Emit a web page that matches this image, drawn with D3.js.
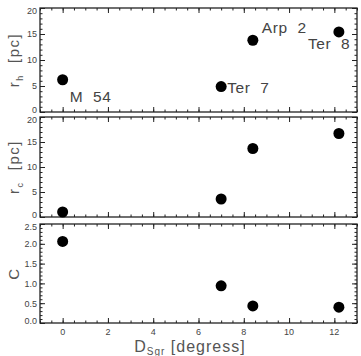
<!DOCTYPE html>
<html>
<head>
<meta charset="utf-8">
<script src="https://cdn.jsdelivr.net/npm/d3@7"></script>
<style>
  body { margin: 0; background: #fff; }
  text { font-family: "Liberation Sans", Arial, sans-serif; fill: #333; }
</style>
</head>
<body>
<div id="chart"></div>
<script>
// cluster data
var names = ["M 54", "Ter 7", "Arp 2", "Ter 8"];
var dSgr = [0, 7.0, 8.4, 12.2];
var rh = [6.2, 4.9, 13.8, 15.4];
var rc = [1.0, 3.6, 13.7, 16.7];
var conc = [2.06, 0.94, 0.43, 0.40];

var xTicks = [0, 2, 4, 6, 8, 10, 12];
var rTicks = [0, 5, 10, 15, 20];
var cTicks = [0.0, 0.5, 1.0, 1.5, 2.0, 2.5];

var W = 361, H = 356;
var left = 40, right = 357;

var svg = d3.select("#chart").append("svg")
    .attr("width", W)
    .attr("height", H);

var x = d3.scaleLinear().domain([-1, 13]).range([left, right]);

// panel definitions
var panels = [
  { top: 8, bottom: 112, domain: [0, 20], ticks: rTicks, minor: 1, vals: rh, fmt: d3.format("d"), label: "r", sub: "h", unit: " [pc]" },
  { top: 117, bottom: 217, domain: [0, 20], ticks: rTicks, minor: 1, vals: rc, fmt: d3.format("d"), label: "r", sub: "c", unit: " [pc]" },
  { top: 224, bottom: 323, domain: [0, 2.5], ticks: cTicks, minor: 0.1, vals: conc, fmt: d3.format(".1f"), label: "C", sub: "", unit: "" }
];

panels.forEach(function(p, i) {
  var y = d3.scaleLinear().domain(p.domain).range([p.bottom, p.top]);
  var g = svg.append("g");

  // minor ticks
  var yMinor = d3.range(p.domain[0], p.domain[1] + p.minor / 2, p.minor);
  var xMinor = d3.range(-1, 13.01, 0.5);

  g.append("g")
      .attr("transform", "translate(" + left + ",0)")
      .call(d3.axisRight(y).tickValues(yMinor).tickSize(2.5).tickFormat(""));
  g.append("g")
      .attr("transform", "translate(" + right + ",0)")
      .call(d3.axisLeft(y).tickValues(yMinor).tickSize(2.5).tickFormat(""));
  g.append("g")
      .attr("transform", "translate(0," + p.bottom + ")")
      .call(d3.axisTop(x).tickValues(xMinor).tickSize(2.5).tickFormat(""));
  g.append("g")
      .attr("transform", "translate(0," + p.top + ")")
      .call(d3.axisBottom(x).tickValues(xMinor).tickSize(2.5).tickFormat(""));

  // major ticks
  g.append("g")
      .attr("transform", "translate(" + left + ",0)")
      .call(d3.axisRight(y).tickValues(p.ticks).tickSize(5).tickFormat(""));
  g.append("g")
      .attr("transform", "translate(" + right + ",0)")
      .call(d3.axisLeft(y).tickValues(p.ticks).tickSize(5).tickFormat(""));
  g.append("g")
      .attr("transform", "translate(0," + p.bottom + ")")
      .call(d3.axisTop(x).tickValues(xTicks).tickSize(5).tickFormat(""));
  g.append("g")
      .attr("transform", "translate(0," + p.top + ")")
      .call(d3.axisBottom(x).tickValues(xTicks).tickSize(5).tickFormat(""));

  g.selectAll(".domain").remove();
  g.selectAll(".tick line").attr("stroke", "#222").attr("stroke-width", 1);

  // frame
  g.append("rect")
      .attr("x", left).attr("y", p.top)
      .attr("width", right - left).attr("height", p.bottom - p.top)
      .attr("fill", "none").attr("stroke", "#222").attr("stroke-width", 1.3);

  // y tick labels (end labels nudged inward so neighbouring panels don't collide)
  var lo = p.ticks[0], hi = p.ticks[p.ticks.length - 1];
  g.selectAll(".ylab")
      .data(p.ticks)
      .enter().append("text")
      .attr("x", left - 3)
      .attr("y", function(d) {
        var off = d === lo ? -2 : (d === hi ? 3 : 0);
        return y(d) + 3.3 + off;
      })
      .attr("text-anchor", "end")
      .style("font-size", "9px")
      .style("fill", "#444")
      .text(p.fmt);

  // y axis title
  var cy = (p.top + p.bottom) / 2;
  var t = g.append("text")
      .attr("transform", "translate(19," + cy + ") rotate(-90)")
      .attr("text-anchor", "middle")
      .style("font-size", "15px")
      .style("letter-spacing", "1.5px")
      .style("fill", "#555");
  t.append("tspan").text(p.label);
  if (p.sub) {
    t.append("tspan").attr("dy", 4).style("font-size", "9px").text(p.sub);
    t.append("tspan").attr("dy", -4).text("\u00a0" + p.unit);
  }

  // points
  g.selectAll("circle")
      .data(p.vals)
      .enter().append("circle")
      .attr("cx", function(d, j) { return x(dSgr[j]); })
      .attr("cy", function(d) { return y(d); })
      .attr("r", 5.5)
      .attr("fill", "#000");

  // cluster names on top panel
  if (i === 0) {
    var offs = [[7, 22], [6, 6], [9, -7], [-31, 17]];
    g.selectAll(".name")
        .data(names)
        .enter().append("text")
        .attr("x", function(d, j) { return x(dSgr[j]) + offs[j][0]; })
        .attr("y", function(d, j) { return y(p.vals[j]) + offs[j][1]; })
        .style("font-size", "15.5px")
        .style("letter-spacing", "0.6px")
        .style("fill", "#444")
        .text(function(d) { return d.replace(" ", "\u00a0\u00a0"); });
  }
});

// x tick labels
svg.selectAll(".xlab")
    .data(xTicks)
    .enter().append("text")
    .attr("x", function(d) { return x(d); })
    .attr("y", 335)
    .attr("text-anchor", "middle")
    .style("font-size", "9px")
    .style("fill", "#444")
    .text(function(d) { return d; });

// x axis title
var xt = svg.append("text")
    .attr("x", 190)
    .attr("y", 352)
    .attr("text-anchor", "middle")
    .style("font-size", "16px")
    .style("letter-spacing", "1px")
    .style("fill", "#555");
xt.append("tspan").text("D");
xt.append("tspan").attr("dy", 3).style("font-size", "10px").text("Sgr");
xt.append("tspan").attr("dy", -3).text("\u00a0[degress]");
</script>
</body>
</html>
